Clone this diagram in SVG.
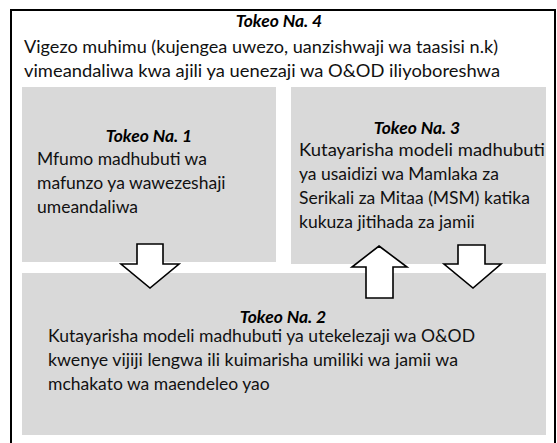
<svg xmlns="http://www.w3.org/2000/svg" width="557" height="443" viewBox="0 0 557 443">
<style>
.box{fill:#d9d9d9;stroke:none}
.t{font-family:Lato,"Open Sans","Liberation Sans",sans-serif;font-size:17.5px;fill:#111}
.h{font-weight:bold;font-style:italic;text-anchor:middle;fill:#000}
.arr{fill:#fff;stroke:#000;stroke-width:1.6;stroke-linejoin:miter}
</style>
<rect x="0" y="0" width="557" height="443" fill="#fff"/>
<g id="tokeo4">
<rect x="11" y="10" width="544" height="440" fill="#fff" stroke="#000" stroke-width="2"/>
<text class="t h" x="279" y="27">Tokeo Na. 4</text>
<text class="t" x="24" y="53" textLength="474" lengthAdjust="spacingAndGlyphs">Vigezo muhimu (kujengea uwezo, uanzishwaji wa taasisi n.k)</text>
<text class="t" x="24" y="77" textLength="476" lengthAdjust="spacingAndGlyphs">vimeandaliwa kwa ajili ya uenezaji wa O&amp;OD iliyoboreshwa</text>
</g>
<g id="tokeo1">
<rect class="box" x="22" y="87" width="254" height="175"/>
<text class="t h" x="149" y="142">Tokeo Na. 1</text>
<text class="t" x="37" y="165">Mfumo madhubuti wa</text>
<text class="t" x="37" y="189">mafunzo ya wawezeshaji</text>
<text class="t" x="37" y="213">umeandaliwa</text>
</g>
<g id="tokeo3">
<rect class="box" x="291" y="87" width="255" height="177"/>
<text class="t h" x="417" y="134">Tokeo Na. 3</text>
<text class="t" x="299" y="156" textLength="246" lengthAdjust="spacingAndGlyphs">Kutayarisha modeli madhubuti</text>
<text class="t" x="299" y="180">ya usaidizi wa Mamlaka za</text>
<text class="t" x="299" y="204">Serikali za Mitaa (MSM) katika</text>
<text class="t" x="299" y="228">kukuza jitihada za jamii</text>
</g>
<g id="tokeo2">
<rect class="box" x="22" y="273" width="524" height="162"/>
<text class="t h" x="283" y="323">Tokeo Na. 2</text>
<text class="t" x="48" y="342" textLength="427" lengthAdjust="spacingAndGlyphs">Kutayarisha modeli madhubuti ya utekelezaji wa O&amp;OD</text>
<text class="t" x="48" y="366" textLength="410" lengthAdjust="spacingAndGlyphs">kwenye vijiji lengwa ili kuimarisha umiliki wa jamii wa</text>
<text class="t" x="48" y="390">mchakato wa maendeleo yao</text>
</g>
<g id="connectors">
<polygon class="arr" points="137,244 163,244 163,264 179,264 150,288 121,264 137,264"/>
<polygon class="arr" points="379,246 407,267 393,267 393,298 366,298 366,267 352,267"/>
<polygon class="arr" points="458,245 485,245 485,264 501,264 473,288 444,264 458,264"/>
</g>
</svg>
